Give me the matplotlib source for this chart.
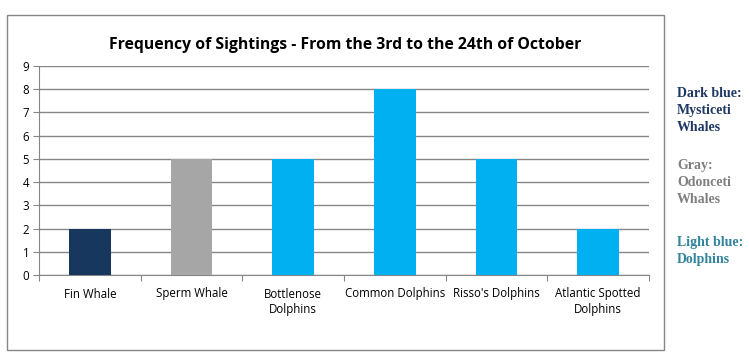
import numpy as np
import matplotlib.pyplot as plt
from matplotlib.patches import Rectangle

categories = ['Fin Whale', 'Sperm Whale', 'Bottlenose\nDolphins', 'Common Dolphins',
              "Risso's Dolphins", 'Atlantic Spotted\nDolphins']
sightings = [2, 5, 5, 8, 5, 2]
bar_colors = ['#17375E', '#A6A6A6', '#00B0F0', '#00B0F0', '#00B0F0', '#00B0F0']

notes = ['Dark blue:\nMysticeti\nWhales', 'Gray:\nOdonceti\nWhales', 'Light blue:\nDolphins']
note_colors = ['#1F3864', '#7F7F7F', '#31849B']
note_y = [87, 159, 236]  # top of each note, pixels from top

W, H = 749, 360
fig = plt.figure(figsize=(W / 100, H / 100), dpi=100)
fig.patch.set_facecolor('white')

# chart border
fig.add_artist(Rectangle((7 / W, 1 - 350 / H), (664 - 7) / W, (350 - 15) / H,
                         transform=fig.transFigure, fill=False, edgecolor='#868686', lw=1))

ax = fig.add_axes([39 / W, 1 - 275 / H, (649 - 39) / W, (275 - 66) / H])
x = np.arange(len(categories))
ax.bar(x, sightings, width=0.41, color=bar_colors, zorder=3)

ax.set_xlim(-0.5, len(categories) - 0.5)
ax.set_ylim(0, 9)
ax.set_yticks(range(0, 10))
ax.grid(axis='y', color='#868686', lw=1, zorder=0)

ax.set_xticks(np.arange(-0.5, len(categories)), labels=[])
ax.set_xticks(x, labels=categories, minor=True)
ax.tick_params(axis='x', which='major', length=4, color='#868686', direction='out')
ax.tick_params(axis='x', which='minor', length=0, pad=9)
ax.tick_params(axis='y', length=4, color='#868686', pad=3)
for lab in ax.get_xticklabels(minor=True) + ax.get_yticklabels():
    lab.set_fontsize(8.3)
    lab.set_family('Open Sans')
    lab.set_color('black')

for s in ['top', 'right']:
    ax.spines[s].set_visible(False)
for s in ['left', 'bottom']:
    ax.spines[s].set_color('#868686')

fig.text(345 / W, 1 - 45 / H, 'Frequency of Sightings - From the 3rd to the 24th of October',
         ha='center', va='center', fontsize=11.3, fontweight='bold', family='Open Sans')

for txt, c, y in zip(notes, note_colors, note_y):
    fig.text(677 / W, 1 - y / H, txt, ha='left', va='top', color=c, fontsize=10,
             fontweight='bold', family='Liberation Serif', linespacing=1.42)

fig.savefig('out.png', dpi=100)
